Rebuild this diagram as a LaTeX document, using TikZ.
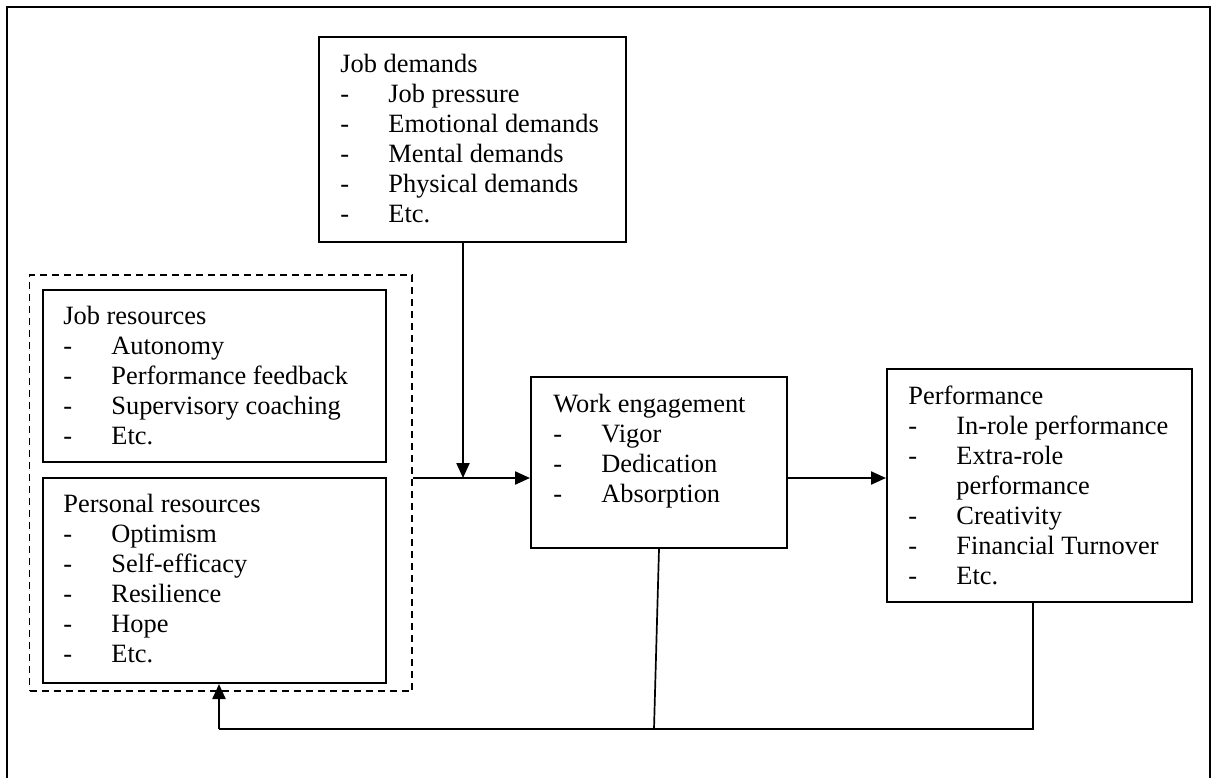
\documentclass[tikz,border=0pt]{standalone}
\usepackage{fontspec}
\setmainfont{Liberation Serif}
\usetikzlibrary{arrows.meta,fit}
\newcommand{\itm}[1]{\makebox[24pt][l]{-}#1}
\newcommand{\cnt}[1]{\hspace*{24pt}#1}
\begin{document}
\begin{tikzpicture}[x=0.5pt,y=-0.5pt,
  box/.style={draw, line width=1pt, rectangle, inner sep=0pt},
  dbox/.style={draw, line width=0.75pt, dash pattern=on 3.5pt off 2.5pt, rectangle, inner sep=0pt},
  txt/.style={anchor=base west, inner sep=0pt, font=\fontsize{13.2}{15}\selectfont},
  conn/.style={line width=1.1pt},
  thin/.style={line width=0.85pt},
  tip/.style={-{Triangle[length=7.5pt,width=6.5pt]}},
  frame/.style={line width=1pt}
]
\useasboundingbox (0,0) rectangle (1212,778);
% outer frame (bottom edge lies below the picture)
\draw[frame] (7,778) -- (7,7) -- (1210,7) -- (1210,778);

% boxes
\node[box, fit={(319,37) (626,242)}] (jd) {};
\node[dbox, fit={(29.5,275) (412,691)}] (grp) {};
\node[box, fit={(43,290) (386,462)}] (jr) {};
\node[box, fit={(43,478) (386,683)}] (pr) {};
\node[box, fit={(531,377) (787,548)}] (we) {};
\node[box, fit={(887,369) (1192,602)}] (perf) {};

% texts
\node[txt] (jdt) at (340,72) {\begin{tabular}[t]{@{}l@{}}Job demands\\ \itm{Job pressure}\\ \itm{Emotional demands}\\ \itm{Mental demands}\\ \itm{Physical demands}\\ \itm{Etc.}\end{tabular}};
\node[txt] (jrt) at (63,324) {\begin{tabular}[t]{@{}l@{}}Job resources\\ \itm{Autonomy}\\ \itm{Performance feedback}\\ \itm{Supervisory coaching}\\ \itm{Etc.}\end{tabular}};
\node[txt] (prt) at (63,512) {\begin{tabular}[t]{@{}l@{}}Personal resources\\ \itm{Optimism}\\ \itm{Self-efficacy}\\ \itm{Resilience}\\ \itm{Hope}\\ \itm{Etc.}\end{tabular}};
\node[txt] (wet) at (553,412) {\begin{tabular}[t]{@{}l@{}}Work engagement\\ \itm{Vigor}\\ \itm{Dedication}\\ \itm{Absorption}\end{tabular}};
\node[txt] (perft) at (908,404) {\begin{tabular}[t]{@{}l@{}}Performance\\ \itm{In-role performance}\\ \itm{Extra-role}\\ \cnt{performance}\\ \itm{Creativity}\\ \itm{Financial Turnover}\\ \itm{Etc.}\end{tabular}};

% connectors
\coordinate (j) at (463,478);
\coordinate (wefoot) at (654,729);
\coordinate (fbR) at (1033,729);
\coordinate (fbL) at (219,729);

\draw[conn, tip] (jd.south -| j) -- (j);
\draw[conn, tip] (grp.east |- j) -- (we.west |- j);
\draw[conn, tip] (we.east |- j) -- (perf.west |- j);
\draw[thin] (we.south) -- (wefoot);
\draw[thin] (fbR |- perf.south) -- (fbR) -- (fbL);
\draw[conn, tip] (fbL) -- (fbL |- pr.south);
\end{tikzpicture}
\end{document}
